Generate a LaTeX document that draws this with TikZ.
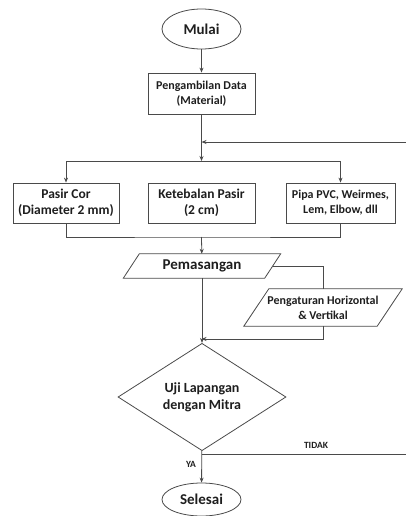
\documentclass[tikz,border=0pt]{standalone}
\usepackage{fontspec}
\setmainfont{Carlito}
\usetikzlibrary{shapes.geometric, arrows.meta, positioning}
\definecolor{linegray}{HTML}{4A4A4A}
\definecolor{textgray}{HTML}{1E1E1E}

\begin{document}
\begin{tikzpicture}[x=1pt, y=-1pt, >={Stealth[length=5pt,width=4pt]},
    line/.style={draw=linegray, line width=0.8pt},
    box/.style={draw=linegray, line width=0.8pt, rectangle, align=center,
      inner sep=0pt, text=textgray, font=\bfseries\fontsize{13.5}{16}\selectfont},
    term/.style={draw=linegray, line width=0.8pt, ellipse, inner sep=0pt,
      minimum width=79, minimum height=40, text=textgray,
      font=\bfseries\fontsize{15}{18}\selectfont},
    io/.style={rectangle, inner sep=0pt, align=center, text=textgray},
    decide/.style={draw=linegray, line width=0.8pt, diamond, inner sep=0pt,
      align=center, minimum width=168, minimum height=80, text=textgray,
      font=\bfseries\fontsize{14}{17}\selectfont},
    lbl/.style={text=textgray, font=\bfseries\fontsize{9.5}{11}\selectfont}]

    \useasboundingbox (0,0) rectangle (406,516);

    \node [term] (mulai) at (201.5, 29) {Mulai};
    \node [box, minimum width=107, minimum height=41,
      font=\bfseries\fontsize{12}{15}\selectfont] (data) at (201.5, 93.5)
      {Pengambilan Data\\(Material)};
    \node [box, minimum width=106, minimum height=40] (pasir) at (66, 203)
      {Pasir Cor\\(Diameter 2 mm)};
    \node [box, minimum width=107, minimum height=40] (tebal) at (201.5, 203)
      {Ketebalan Pasir\\(2 cm)};
    \node [box, minimum width=109, minimum height=40,
      font=\bfseries\fontsize{12}{15}\selectfont] (pipa) at (340.5, 203)
      {Pipa PVC, Weirmes,\\Lem, Elbow, dll};
    \node [io, minimum width=141, minimum height=24,
      font=\bfseries\fontsize{15}{18}\selectfont] (pasang) at (202, 266)
      {Pemasangan};
    \node [io, minimum width=133, minimum height=37,
      font=\bfseries\fontsize{12}{15}\selectfont] (atur) at (323, 307.5)
      {Pengaturan Horizontal\\\& Vertikal};
    \node [decide] (uji) at (202, 397) {Uji Lapangan\\dengan Mitra};
    \node [term, minimum height=33] (selesai) at (201.5, 499.5) {Selesai};

    % jajar genjang
    \draw [line] ([xshift=8pt]pasang.north west) -- ([xshift=8pt]pasang.north east)
      -- ([xshift=-8pt]pasang.south east) -- ([xshift=-8pt]pasang.south west) -- cycle;
    \draw [line] ([xshift=12.5pt]atur.north west) -- ([xshift=12.5pt]atur.north east)
      -- ([xshift=-12.5pt]atur.south east) -- ([xshift=-12.5pt]atur.south west) -- cycle;

    \coordinate (masuk) at (201.5, 142);
    \coordinate (bagi) at (201.5, 161);
    \coordinate (gabung) at (201.5, 237);
    \coordinate (balik) at (201.5, 339);
    \coordinate (cabang) at (201.5, 454);

    \draw [line,->] (mulai) -- (data);
    \draw [line,->] (data) -- (bagi);
    \draw [line] (bagi -| pasir) -- (bagi -| pipa);
    \draw [line,->] (bagi -| pasir) -- (pasir);
    \draw [line,->] (bagi -| pipa) -- (pipa);
    \draw [line] (pasir) |- (gabung) -| (pipa);
    \draw [line,->] (gabung) -- (pasang);
    \draw [line] (pasang.east) -| (atur);
    \draw [line,->] (atur) |- (balik);
    \draw [line,->] (pasang) -- (uji);
    \draw [line,->] (uji) -- (selesai);
    \node [lbl] (ya) at (191, 464) {YA};
    \draw [line,->] (cabang) -- (412, 454) |- (masuk);
    \node [lbl] (tidak) at (316, 445) {TIDAK};
\end{tikzpicture}
\end{document}
